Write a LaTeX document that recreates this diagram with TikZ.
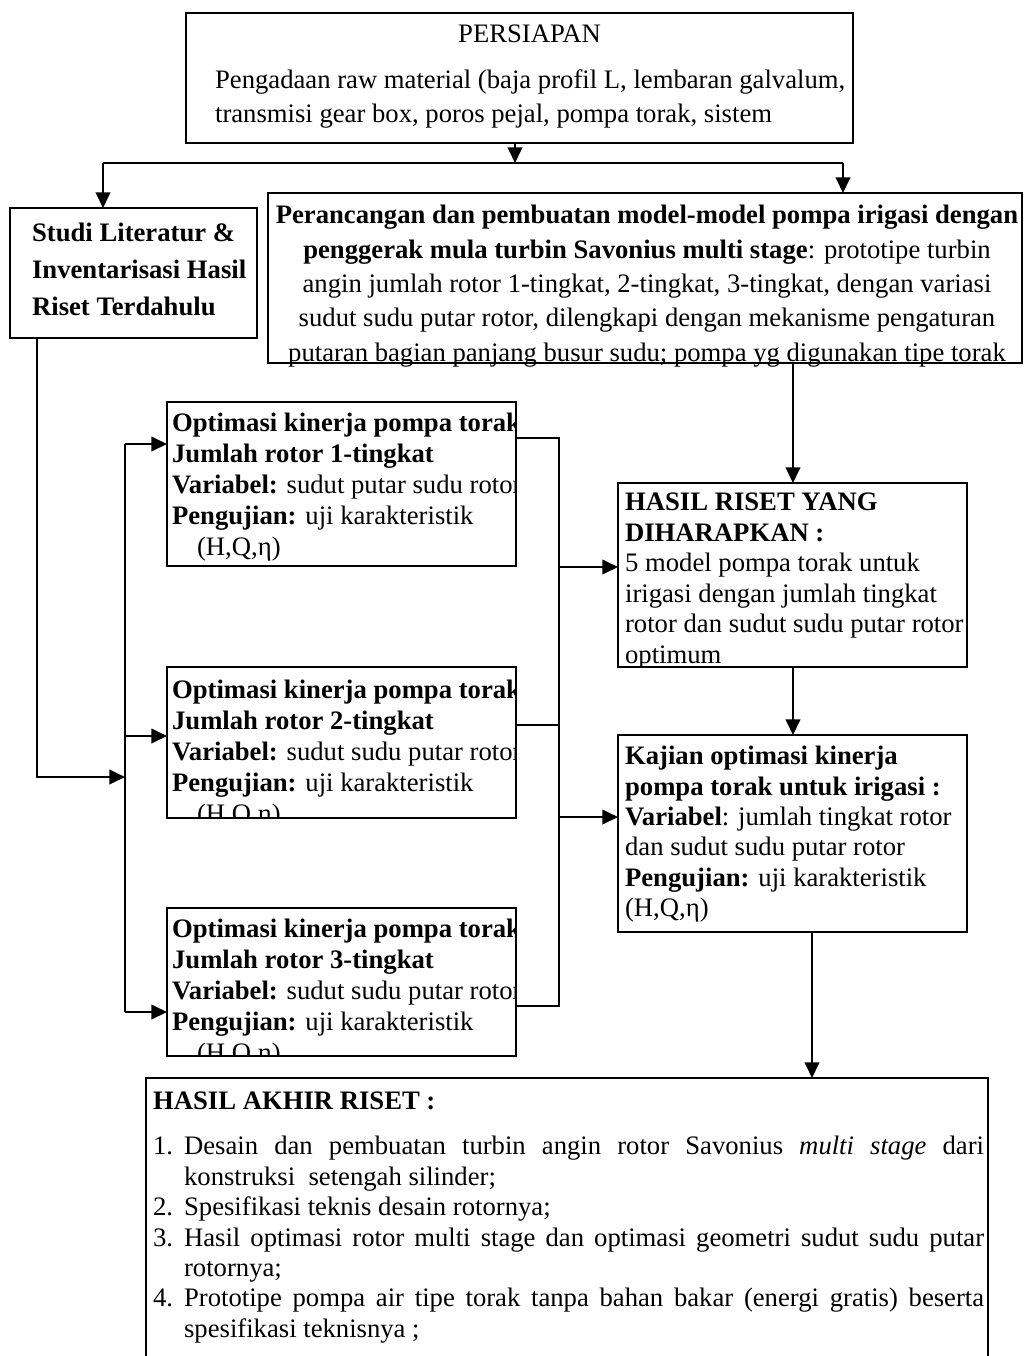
\documentclass[tikz,border=0pt]{standalone}
\usepackage{fontspec}
\setmainfont{Liberation Serif}
\usetikzlibrary{positioning,arrows.meta}
\newdimen\px \px=0.45pt

\begin{document}
\begin{tikzpicture}[x=0.45pt, y=-0.45pt, line width=1pt,
    box/.style = {draw, anchor=north west, inner sep=0pt, outer sep=0pt},
    txt/.style = {anchor=north west, inner sep=0pt, align=left, font=\fontsize{12}{13.7}\selectfont},
    arr/.style = {-{Triangle[length=7pt,width=6.5pt]}}]
    \useasboundingbox (0,0) rectangle (1025,1356);
    \clip (0,0) rectangle (1025,1356);

    % boxes
    \node[box, minimum width=667\px, minimum height=130\px] (prep) at (186,13) {};
    \node[txt, font=\fontsize{12}{15.3}\selectfont] (preptext) at (214,24)
        {\makebox[629\px]{PERSIAPAN}\\[5.4pt]
         Pengadaan raw material (baja profil L, lembaran galvalum,\\
         transmisi gear box, poros pejal, pompa torak, sistem};

    \node[box, minimum width=247\px, minimum height=130\px] (studi) at (10,208) {};
    \node[txt, font=\fontsize{12}{16.6}\selectfont\bfseries] (studitext) at (31,222)
        {Studi Literatur \&\\ Inventarisasi Hasil\\ Riset Terdahulu};

    \node[box, minimum width=754\px, minimum height=170\px] (design) at (268,193) {};
    \node[txt, anchor=north, align=center, font=\fontsize{12}{15.5}\selectfont] (designtext) at (647,204)
        {\textbf{Perancangan dan pembuatan model-model pompa irigasi dengan}\\
         \textbf{penggerak mula turbin Savonius multi stage}: prototipe turbin\\
         angin jumlah rotor 1-tingkat, 2-tingkat, 3-tingkat, dengan variasi\\
         sudut sudu putar rotor, dilengkapi dengan mekanisme pengaturan\\
         putaran bagian panjang busur sudu; pompa yg digunakan tipe torak};

    \node[box, minimum width=349\px, minimum height=164\px] (opt1) at (167,402) {};
    \begin{scope}
        \clip (opt1.north west) rectangle (opt1.south east);
        \node[txt, font=\fontsize{12}{13.95}\selectfont] (opt1text) at (171,412)
            {\textbf{Optimasi kinerja pompa torak}\\ \textbf{Jumlah rotor 1-tingkat}\\
             \textbf{Variabel:} sudut putar sudu rotor\\ \textbf{Pengujian:} uji karakteristik\\
             \hspace*{25\px}(H,Q,η)};
    \end{scope}

    \node[box, minimum width=349\px, minimum height=151\px] (opt2) at (167,667) {};
    \begin{scope}
        \clip (opt2.north west) rectangle (opt2.south east);
        \node[txt, font=\fontsize{12}{13.95}\selectfont] (opt2text) at (171,679)
            {\textbf{Optimasi kinerja pompa torak}\\ \textbf{Jumlah rotor 2-tingkat}\\
             \textbf{Variabel:} sudut sudu putar rotor\\ \textbf{Pengujian:} uji karakteristik\\
             \hspace*{25\px}(H,Q,η)};
    \end{scope}

    \node[box, minimum width=349\px, minimum height=148\px] (opt3) at (167,908) {};
    \begin{scope}
        \clip (opt3.north west) rectangle (opt3.south east);
        \node[txt, font=\fontsize{12}{13.95}\selectfont] (opt3text) at (171,918)
            {\textbf{Optimasi kinerja pompa torak}\\ \textbf{Jumlah rotor 3-tingkat}\\
             \textbf{Variabel:} sudut sudu putar rotor\\ \textbf{Pengujian:} uji karakteristik\\
             \hspace*{25\px}(H,Q,η)};
    \end{scope}

    \node[box, minimum width=349\px, minimum height=184\px] (hasil) at (618,483) {};
    \begin{scope}
        \clip (hasil.north west) rectangle (hasil.south east);
        \node[txt] (hasiltext) at (624,492)
            {\textbf{HASIL RISET YANG}\\ \textbf{DIHARAPKAN :}\\ 5 model pompa torak untuk\\
             irigasi dengan jumlah tingkat\\ rotor dan sudut sudu putar rotor\\ optimum};
    \end{scope}

    \node[box, minimum width=349\px, minimum height=197\px] (kajian) at (618,735) {};
    \node[txt] (kajiantext) at (624,745)
        {\textbf{Kajian optimasi kinerja}\\ \textbf{pompa torak untuk irigasi :}\\
         \textbf{Variabel}: jumlah tingkat rotor\\ dan sudut sudu putar rotor\\
         \textbf{Pengujian:} uji karakteristik\\ (H,Q,η)};

    \node[box, minimum width=842\px, minimum height=320\px] (final) at (146,1078) {};
    \node[txt, text width=831\px, align=justify] (finaltext) at (152,1091)
        {\noindent\textbf{HASIL AKHIR RISET :}\par\vspace{6.5pt}
         \noindent\hangindent=31\px\hangafter=1\makebox[31\px][l]{1.}Desain dan pembuatan turbin angin rotor Savonius \textit{multi stage} dari\linebreak konstruksi\ \ setengah silinder;\par
         \noindent\hangindent=31\px\hangafter=1\makebox[31\px][l]{2.}Spesifikasi teknis desain rotornya;\par
         \noindent\hangindent=31\px\hangafter=1\makebox[31\px][l]{3.}Hasil optimasi rotor multi stage dan optimasi geometri sudut sudu putar\linebreak rotornya;\par
         \noindent\hangindent=31\px\hangafter=1\makebox[31\px][l]{4.}Prototipe pompa air tipe torak tanpa bahan bakar (energi gratis) beserta\linebreak spesifikasi teknisnya ;\par};

    % connectors
    \coordinate (split) at (515,163);
    \coordinate (lt) at (103,163);
    \coordinate (rt) at (843,163);
    \draw[arr] (prep.south -| split) -- (split);
    \draw (lt) -- (rt);
    \draw[arr] (lt) -- (lt |- studi.north);
    \draw[arr] (rt) -- (rt |- design.north);

    \coordinate (feed) at (125,777);
    \draw[arr] ([xshift=27\px]studi.south west) |- (feed);
    \coordinate (b1) at (125,444);
    \coordinate (b2) at (125,736);
    \coordinate (b3) at (125,1012);
    \draw (b1) -- (b3);
    \draw[arr] (b1) -- (b1 -| opt1.west);
    \draw[arr] (b2) -- (b2 -| opt2.west);
    \draw[arr] (b3) -- (b3 -| opt3.west);

    \coordinate (c1) at (559,438);
    \coordinate (c2) at (559,725);
    \coordinate (c3) at (559,1006);
    \draw (c1 -| opt1.east) -- (c1) -- (c3) -- (c3 -| opt3.east);
    \draw (c2 -| opt2.east) -- (c2);
    \coordinate (m1) at (559,567);
    \coordinate (m2) at (559,817);
    \draw[arr] (m1) -- (m1 -| hasil.west);
    \draw[arr] (m2) -- (m2 -| kajian.west);

    \coordinate (d1) at (793,0);
    \coordinate (d2) at (812,0);
    \draw[arr] (design.south -| d1) -- (hasil.north -| d1);
    \draw[arr] (hasil.south -| d1) -- (kajian.north -| d1);
    \draw[arr] (kajian.south -| d2) -- (final.north -| d2);
\end{tikzpicture}
\end{document}
